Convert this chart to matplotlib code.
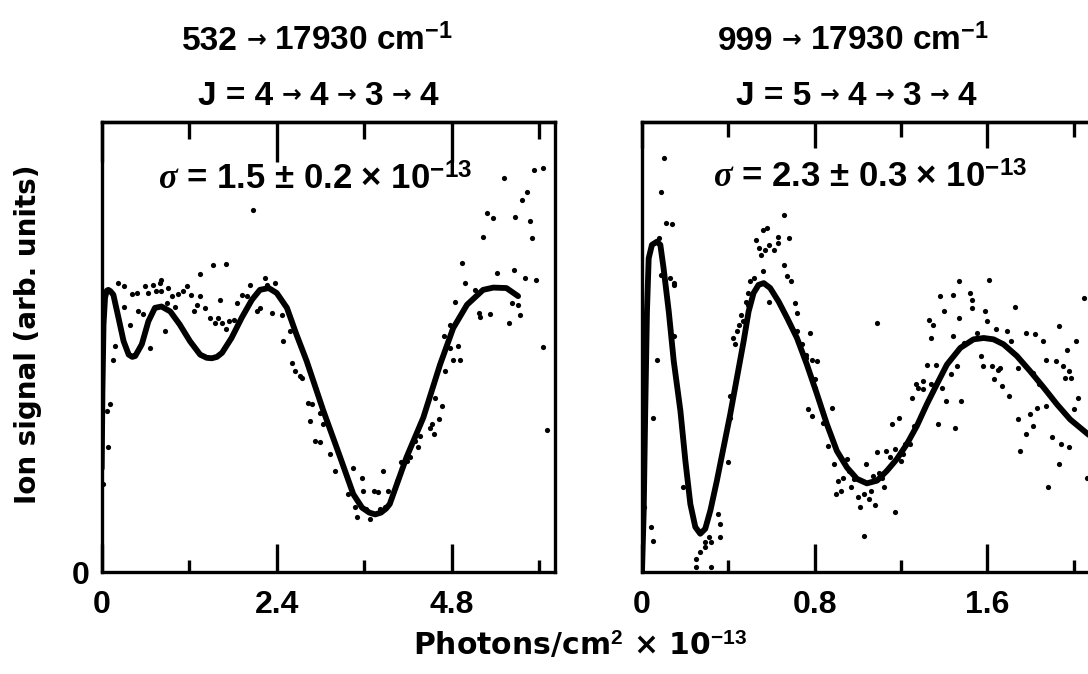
import matplotlib
matplotlib.use("Agg")
import matplotlib.pyplot as plt

plt.rcParams['font.family'] = ['DejaVu Sans']
plt.rcParams['font.weight'] = 'bold'
plt.rcParams['mathtext.fontset'] = 'custom'
plt.rcParams['mathtext.rm'] = 'Liberation Sans'
plt.rcParams['mathtext.bf'] = 'Liberation Sans:bold'
plt.rcParams['mathtext.it'] = 'Liberation Serif:italic'

# ---------------- data ----------------
# Left panel: 532 -> 17930 cm-1, fitted curve
fit1_x = [0.0, 0.01, 0.025, 0.046, 0.07, 0.09, 0.12, 0.16, 0.23, 0.30, 0.37, 0.42,
          0.46, 0.55, 0.64, 0.73, 0.82, 0.94, 1.07, 1.21, 1.35, 1.44, 1.51, 1.58,
          1.65, 1.78, 1.92, 2.06, 2.17, 2.29, 2.40, 2.54, 2.67, 2.81, 3.04, 3.27,
          3.45, 3.57, 3.67, 3.75, 3.83, 3.90, 3.95, 4.18, 4.41, 4.64, 4.82, 5.01,
          5.23, 5.37, 5.55, 5.71]
fit1_y = [23.0, 40.0, 55.0, 61.0, 62.5, 62.7, 62.4, 61.6, 56.5, 51.3, 48.3, 47.8,
          48.0, 50.6, 55.7, 58.7, 59.0, 57.9, 55.0, 51.3, 48.3, 47.6, 47.5, 47.8,
          48.7, 52.0, 56.5, 60.5, 62.7, 63.1, 62.0, 58.7, 52.8, 46.9, 35.8, 25.5,
          17.3, 14.3, 13.2, 12.8, 13.2, 14.1, 15.1, 25.5, 34.3, 46.1, 54.2, 59.4,
          62.7, 63.2, 63.1, 61.3]

# Left panel: measured points
pts1_x = [0.02, 0.07, 0.09, 0.11, 0.16, 0.18, 0.23, 0.30, 0.30, 0.39, 0.41, 0.48,
          0.50, 0.57, 0.59, 0.64, 0.66, 0.71, 0.75, 0.80, 0.82, 0.82, 0.87, 0.89,
          0.91, 0.96, 1.01, 1.05, 1.12, 1.17, 1.23, 1.26, 1.30, 1.35, 1.35, 1.42,
          1.49, 1.53, 1.55, 1.60, 1.62, 1.65, 1.71, 1.71, 1.74, 1.81, 1.85, 1.92,
          1.99, 2.03, 2.08, 2.13, 2.17, 2.24, 2.26, 2.33, 2.38, 2.47, 2.49, 2.58,
          2.61, 2.65, 2.72, 2.74, 2.83, 2.86, 2.88, 2.93, 2.99, 2.99, 3.04, 3.13,
          3.20, 3.38, 3.45, 3.47, 3.50, 3.57, 3.59, 3.63, 3.68, 3.73, 3.79, 3.82,
          3.86, 3.89, 3.93, 4.05, 4.11, 4.18, 4.23, 4.30, 4.34, 4.37, 4.50, 4.53,
          4.55, 4.57, 4.62, 4.66, 4.69, 4.71, 4.78, 4.78, 4.82, 4.85, 4.89, 4.91,
          4.94, 4.98, 5.12, 5.17, 5.19, 5.23, 5.28, 5.33, 5.37, 5.42, 5.51, 5.58,
          5.62, 5.65, 5.67, 5.71, 5.74, 5.76, 5.81, 5.83, 5.87, 5.90, 5.93, 5.96,
          6.05, 6.05, 6.10]
pts1_y = [19.6, 35.8, 27.7, 37.3, 47.2, 50.2, 64.2, 63.5, 59.0, 55.0, 61.8, 62.0,
          57.9, 57.3, 63.5, 62.0, 49.8, 63.8, 62.4, 64.2, 64.9, 62.4, 53.5, 59.8,
          63.1, 61.3, 59.0, 61.8, 62.4, 63.5, 61.6, 58.1, 59.4, 61.3, 66.2, 58.7,
          56.5, 68.3, 55.4, 56.5, 60.5, 55.4, 53.9, 68.4, 55.7, 56.1, 59.8, 61.6,
          61.3, 63.8, 80.4, 57.9, 58.7, 65.3, 63.8, 57.6, 64.2, 57.2, 51.3, 53.5,
          46.5, 44.6, 43.5, 43.2, 37.6, 33.6, 37.3, 29.2, 35.4, 28.8, 32.8, 26.2,
          22.5, 17.3, 23.2, 14.4, 12.2, 21.0, 18.1, 14.0, 11.8, 18.1, 17.7, 14.0,
          22.5, 14.4, 18.1, 20.3, 24.4, 24.7, 25.5, 29.2, 27.7, 30.3, 32.1, 32.8,
          30.6, 38.7, 33.9, 36.9, 52.4, 44.6, 49.8, 55.0, 47.2, 60.1, 50.2, 47.2,
          68.6, 64.2, 62.7, 57.6, 56.6, 74.4, 79.7, 57.3, 78.6, 66.4, 87.5, 55.4,
          59.8, 67.2, 79.0, 59.4, 57.2, 82.7, 65.3, 84.5, 77.9, 74.3, 89.4, 64.8,
          89.8, 50.0, 31.6]

# Right panel: 999 -> 17930 cm-1, fitted curve
fit2_x = [0.0, 0.008, 0.015, 0.023, 0.031, 0.046, 0.069, 0.085, 0.100, 0.124,
          0.147, 0.178, 0.201, 0.224, 0.247, 0.270, 0.293, 0.317, 0.347, 0.378,
          0.409, 0.440, 0.471, 0.494, 0.517, 0.540, 0.564, 0.594, 0.633, 0.672,
          0.718, 0.764, 0.811, 0.857, 0.903, 0.950, 0.996, 1.042, 1.089, 1.135,
          1.181, 1.227, 1.274, 1.320, 1.366, 1.413, 1.475, 1.536, 1.583, 1.629,
          1.675, 1.737, 1.799, 1.861, 1.922, 1.984, 2.067, 2.120]
fit2_y = [0.0, 13.7, 35.8, 57.9, 69.7, 72.7, 73.4, 72.7, 67.5, 57.9,
          46.9, 35.8, 24.7, 15.1, 10.0, 8.5, 9.6, 13.7, 20.3, 27.7,
          35.1, 43.2, 51.3, 57.9, 62.0, 63.8, 64.2, 63.1, 60.1, 56.5,
          52.0, 46.1, 39.5, 32.8, 26.9, 23.2, 20.7, 19.7, 20.3, 22.5,
          25.1, 28.4, 32.5, 37.3, 41.7, 46.1, 49.8, 51.7, 52.0, 51.7,
          50.6, 48.0, 44.6, 41.0, 37.3, 33.9, 30.6, 28.6]

# Right panel: measured points
pts2_x = [0.01, 0.10, 0.09, 0.11, 0.14, 0.08, 0.07, 0.05, 0.04, 0.05, 0.09, 0.13,
          0.15, 0.15, 0.15, 0.19, 0.25, 0.25, 0.27, 0.29, 0.29, 0.31, 0.32, 0.32,
          0.35, 0.36, 0.36, 0.40, 0.41, 0.41, 0.42, 0.43, 0.44, 0.45, 0.47, 0.46,
          0.48, 0.49, 0.49, 0.50, 0.52, 0.53, 0.54, 0.55, 0.56, 0.56, 0.57, 0.58,
          0.59, 0.59, 0.61, 0.63, 0.63, 0.66, 0.66, 0.67, 0.68, 0.69, 0.71, 0.72,
          0.72, 0.74, 0.76, 0.76, 0.78, 0.79, 0.80, 0.80, 0.81, 0.77, 0.79, 0.84,
          0.86, 0.88, 0.89, 0.90, 0.91, 0.92, 0.93, 0.95, 0.96, 0.97, 0.98, 1.00,
          1.01, 1.03, 1.03, 1.04, 1.05, 1.06, 1.07, 1.08, 1.09, 1.09, 1.10, 1.11,
          1.12, 1.13, 1.15, 1.16, 1.17, 1.17, 1.19, 1.20, 1.21, 1.22, 1.24, 1.25,
          1.26, 1.27, 1.28, 1.30, 1.30, 1.32, 1.33, 1.34, 1.34, 1.35, 1.36, 1.37,
          1.38, 1.39, 1.40, 1.41, 1.43, 1.44, 1.44, 1.45, 1.46, 1.47, 1.47, 1.48,
          1.49, 1.52, 1.53, 1.53, 1.55, 1.57, 1.58, 1.59, 1.60, 1.61, 1.62, 1.63,
          1.64, 1.65, 1.66, 1.67, 1.69, 1.70, 1.71, 1.73, 1.74, 1.74, 1.75, 1.78,
          1.78, 1.80, 1.81, 1.81, 1.82, 1.83, 1.84, 1.86, 1.87, 1.87, 1.88, 1.90,
          1.92, 1.93, 1.93, 1.94, 1.95, 1.96, 1.97, 1.98, 1.98, 1.99, 2.00, 2.01,
          2.02, 2.05, 2.06]
pts2_y = [14.4, 91.9, 84.5, 77.5, 77.3, 74.2, 47.2, 34.3, 10.0, 7.0, 66.1, 65.3,
          64.2, 63.8, 52.4, 18.8, 1.1, 3.0, 4.4, 5.5, 6.6, 7.7, 1.1, 6.6,
          12.9, 7.7, 10.7, 24.4, 34.3, 39.1, 52.0, 50.6, 53.5, 55.0, 55.7, 57.2,
          60.1, 59.4, 62.0, 64.6, 65.3, 73.8, 72.0, 70.5, 76.0, 66.8, 71.6, 76.4,
          60.1, 72.7, 71.6, 73.1, 74.5, 79.3, 68.3, 65.7, 74.2, 64.6, 59.8, 57.6,
          53.5, 50.6, 48.3, 47.6, 53.1, 47.2, 42.8, 41.0, 46.9, 36.2, 34.7, 33.2,
          28.0, 36.5, 24.0, 17.3, 20.3, 18.1, 21.0, 25.1, 22.5, 18.8, 20.7, 16.6,
          14.4, 8.1, 17.3, 24.0, 16.2, 18.1, 21.4, 14.8, 26.6, 55.3, 22.1, 21.0,
          18.8, 26.9, 25.5, 32.8, 13.3, 27.3, 34.3, 24.7, 26.2, 28.4, 28.4, 38.7,
          32.5, 41.7, 41.0, 40.6, 42.4, 46.1, 56.1, 52.0, 41.7, 55.0, 46.1, 32.8,
          61.3, 41.0, 57.9, 38.0, 43.9, 61.6, 52.4, 32.1, 45.8, 64.6, 56.5, 38.0,
          50.9, 62.0, 60.5, 58.7, 53.1, 48.0, 45.8, 57.9, 55.7, 64.9, 45.8, 42.8,
          53.9, 45.0, 45.4, 41.3, 53.5, 39.1, 51.3, 59.0, 45.4, 33.9, 26.9, 53.1,
          30.6, 35.1, 32.5, 44.3, 52.8, 36.5, 41.7, 51.3, 47.2, 36.9, 18.8, 29.9,
          46.9, 54.6, 24.0, 28.4, 45.8, 43.2, 49.4, 27.7, 44.6, 43.2, 36.2, 51.3,
          38.7, 60.9, 21.0]

# Axis ticks
left_major = [0, 2.4, 4.8]
left_major_labels = ['0', '2.4', '4.8']
left_minor = [1.2, 3.6, 6.0]
right_major = [0, 0.8, 1.6]
right_major_labels = ['0', '0.8', '1.6']
right_minor = [0.4, 1.2, 2.0]

left_title = '532'
right_title = '999'
wavenumber = '17930 cm$^{\\mathbf{-1}}$'
left_j = ['J = 4', '4', '3', '4']
right_j = ['J = 5', '4', '3', '4']
left_sigma = '$\\sigma$ = 1.5 ± 0.2 × 10$^{\\mathbf{-13}}$'
right_sigma = '$\\sigma$ = 2.3 ± 0.3 × 10$^{\\mathbf{-13}}$'

# ---------------- figure ----------------
W, H = 1088, 674
fig = plt.figure(figsize=(W / 100, H / 100), dpi=100)


def px_box(left, top, width, height):
    return [left / W, (H - top - height) / H, width / W, height / H]


ax1 = fig.add_axes(px_box(101.7, 122, 453.3, 450))
ax2 = fig.add_axes(px_box(642, 122, 453, 450))

line_kw = dict(color='black', lw=4.2, solid_capstyle='round', solid_joinstyle='round')
dot_kw = dict(s=14, c='black', linewidths=0, zorder=3)

ax1.plot(fit1_x, fit1_y, **line_kw)
ax1.scatter(pts1_x, pts1_y, **dot_kw)
ax2.plot(fit2_x, fit2_y, **line_kw)
ax2.scatter(pts2_x, pts2_y, **dot_kw)

ax1.set_xlim(0, 6.216)
ax2.set_xlim(0, 2.099)
for ax in (ax1, ax2):
    ax.set_ylim(0, 100)
    for sp in ax.spines.values():
        sp.set_linewidth(2.4)

tick_font = dict(family='Liberation Sans', weight='bold', size=23)


def setup_x(ax, major, labels, minor, top_major_len, top_minor_len):
    ax.set_xticks(major)
    ax.set_xticklabels(labels, fontdict=tick_font)
    ax.set_xticks(minor, minor=True)
    ax.tick_params(axis='x', which='major', direction='in', length=20, width=2.4,
                   pad=13)
    ax.tick_params(axis='x', which='minor', direction='in', length=9, width=2.4)
    sec = ax.secondary_xaxis('top')
    sec.set_xticks(major)
    sec.set_xticks(minor, minor=True)
    sec.tick_params(axis='x', which='major', direction='in', length=top_major_len,
                    width=2.4, labeltop=False)
    sec.tick_params(axis='x', which='minor', direction='in', length=top_minor_len,
                    width=2.4)
    sec.spines['top'].set_linewidth(2.4)


setup_x(ax1, left_major, left_major_labels, left_minor, 29, 12)
setup_x(ax2, right_major, right_major_labels, right_minor, 19, 11)

ax1.set_yticks([0])
ax1.set_yticklabels(['0'], fontdict=tick_font)
ax1.tick_params(axis='y', length=0, pad=9)
ax2.set_yticks([])

# sigma annotations
sigma_kw = dict(family='Liberation Sans', fontweight='bold', fontsize=25,
                ha='center', va='baseline')
ax1.text(0.47, 0.849, left_sigma, transform=ax1.transAxes, **sigma_kw)
ax2.text(0.503, 0.853, right_sigma, transform=ax2.transAxes, **sigma_kw)

# axis labels
fig.text(28.5 / W, 1 - 334 / H, 'Ion signal (arb. units)', rotation=90,
         ha='center', va='center', fontsize=20)
fig.text(580 / W, 1 - 655 / H, 'Photons/cm$^{\\mathbf{2}}$ × 10$^{\\mathbf{-13}}$',
         ha='center', va='baseline', fontsize=21.5)

# titles, built piece by piece so the arrows can be smaller than the digits
title_kw = dict(family='Liberation Sans', fontweight='bold', fontsize=24)
arrow_kw = dict(family='DejaVu Sans', fontweight='bold', fontsize=17)
ARROW_RISE = 11 / H
GAP = 6


def chain(x0_px, base_px, pieces):
    yb = 1 - base_px / H
    prev = None
    for text, is_arrow in pieces:
        kw = arrow_kw if is_arrow else title_kw
        y = yb + ARROW_RISE if is_arrow else yb
        va = 'center' if is_arrow else 'baseline'
        if prev is None:
            prev = fig.text(x0_px / W, y, text, ha='left', va=va, **kw)
        else:
            prev = ax1.annotate(text, xy=(1, y), xycoords=(prev, 'figure fraction'),
                                xytext=(GAP, 0), textcoords='offset points',
                                ha='left', va=va, annotation_clip=False, **kw)


def j_pieces(parts):
    out = [(parts[0], False)]
    for p in parts[1:]:
        out += [('→', True), (p, False)]
    return out


chain(182, 50, [(left_title, False), ('→', True), (wavenumber, False)])
chain(718, 50, [(right_title, False), ('→', True), (wavenumber, False)])
chain(198, 105, j_pieces(left_j))
chain(736, 105, j_pieces(right_j))

fig.savefig('out.png', dpi=100)
